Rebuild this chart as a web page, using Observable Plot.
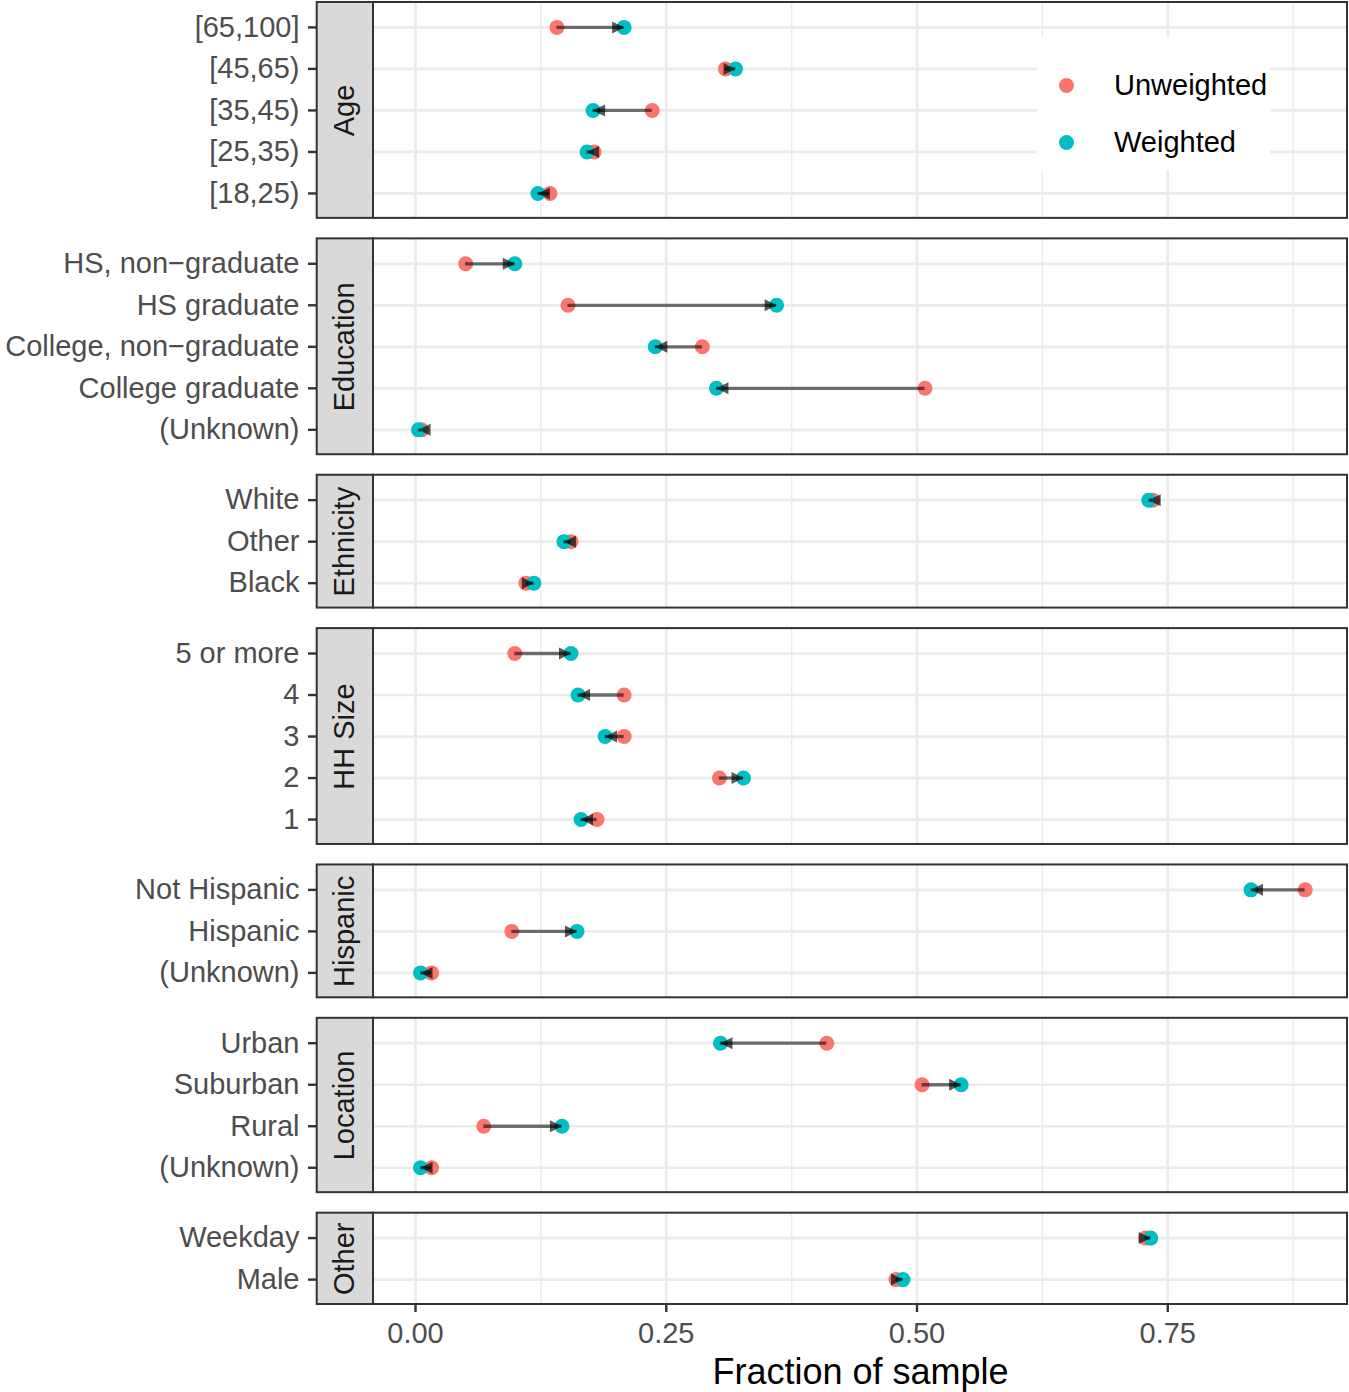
<!DOCTYPE html>
<html>
<head>
<meta charset="utf-8">
<script src="https://cdn.jsdelivr.net/npm/d3@7"></script>
<script src="https://cdn.jsdelivr.net/npm/@observablehq/plot@0.6"></script>
<style>
  body { margin: 0; background: #fff; }
  #wrap { position: relative; width: 1349px; height: 1392px; font-family: "Liberation Sans", Arial, sans-serif; }
  #legend { position: absolute; left: 1037px; top: 37px; width: 233px; height: 133px; background: #fff; }
  .item { position: absolute; left: 0; height: 40px; }
  .sw { position: absolute; left: 21.5px; width: 15px; height: 15px; border-radius: 50%; }
  .lab { position: absolute; left: 77px; font-size: 29px; color: #000; white-space: nowrap; line-height: 40px; }
</style>
</head>
<body>
<div id="wrap"></div>
<script>
// ---------- data ----------
const groupNames = ["Age", "Education", "Ethnicity", "HH Size", "Hispanic", "Location", "Other"];
const categoryGroup = [
  "Age", "Age", "Age", "Age", "Age",
  "Education", "Education", "Education", "Education", "Education",
  "Ethnicity", "Ethnicity", "Ethnicity",
  "HH Size", "HH Size", "HH Size", "HH Size", "HH Size",
  "Hispanic", "Hispanic", "Hispanic",
  "Location", "Location", "Location", "Location",
  "Other", "Other"
];
const categoryLabel = [
  "[65,100]", "[45,65)", "[35,45)", "[25,35)", "[18,25)",
  "HS, non\u2212graduate", "HS graduate", "College, non\u2212graduate", "College graduate", "(Unknown)",
  "White", "Other", "Black",
  "5 or more", "4", "3", "2", "1",
  "Not Hispanic", "Hispanic", "(Unknown)",
  "Urban", "Suburban", "Rural", "(Unknown)",
  "Weekday", "Male"
];
const unweighted = [
  0.141, 0.309, 0.236, 0.178, 0.134,
  0.050, 0.152, 0.286, 0.508, 0.006,
  0.735, 0.155, 0.110,
  0.099, 0.208, 0.208, 0.303, 0.181,
  0.887, 0.096, 0.016,
  0.410, 0.505, 0.068, 0.016,
  0.728, 0.479
];
const weighted = [
  0.208, 0.319, 0.177, 0.171, 0.122,
  0.099, 0.360, 0.239, 0.300, 0.003,
  0.731, 0.148, 0.118,
  0.155, 0.162, 0.189, 0.327, 0.165,
  0.833, 0.161, 0.005,
  0.304, 0.544, 0.146, 0.005,
  0.733, 0.486
];
const xTicks = [0, 0.25, 0.5, 0.75];
const xMinor = [0.125, 0.375, 0.625, 0.875];
const seriesNames = ["Unweighted", "Weighted"];
const seriesColors = ["#F8766D", "#00BFC4"];
const xTitle = "Fraction of sample";

// ---------- layout ----------
const W = 1349, H = 1392, mL = 373, mR = 2, mT = 2, mB = 88;
const frameW = W - mL - mR;
const expand = 0.6, gapU = 0.494;
let cursor = 0;
const panels = [], rows = [];
for (const g of groupNames) {
  const idx = categoryGroup.map((c, i) => (c === g ? i : -1)).filter(i => i >= 0);
  const y1 = cursor;
  idx.forEach((i, k) => rows.push({group: g, label: categoryLabel[i], pos: y1 + expand + k, u: unweighted[i], w: weighted[i]}));
  const y2 = y1 + 2 * expand + idx.length - 1;
  panels.push({name: g, y1, y2, mid: (y1 + y2) / 2});
  cursor = y2 + gapU;
}
const total = cursor - gapU;

const long = rows.flatMap(r => [
  {series: seriesNames[0], x: r.u, pos: r.pos},
  {series: seriesNames[1], x: r.w, pos: r.pos}
]);
const grid = panels.flatMap(p => [
  ...xTicks.map(v => ({x: v, y1: p.y1, y2: p.y2, major: true})),
  ...xMinor.map(v => ({x: v, y1: p.y1, y2: p.y2, major: false}))
]);

const chart = Plot.plot({
  width: W, height: H,
  marginLeft: mL, marginRight: mR, marginTop: mT, marginBottom: mB,
  style: {fontFamily: "Liberation Sans, Arial, sans-serif", background: "white", overflow: "visible"},
  x: {domain: [-0.0419, 0.9292]},
  y: {domain: [0, total], reverse: true, axis: null},
  color: {domain: seriesNames, range: seriesColors},
  marks: [
    Plot.ruleX(grid.filter(d => !d.major), {x: "x", y1: "y1", y2: "y2", stroke: "#ebebeb", strokeWidth: 1.4}),
    Plot.ruleX(grid.filter(d => d.major), {x: "x", y1: "y1", y2: "y2", stroke: "#ebebeb", strokeWidth: 2.7}),
    Plot.ruleY(rows, {y: "pos", stroke: "#ebebeb", strokeWidth: 2.7}),
    Plot.dot(long, {x: "x", y: "pos", fill: "series", r: 7.5, stroke: "none"}),
    Plot.ruleY(rows, {y: "pos", x1: "u", x2: "w", stroke: "black", strokeOpacity: 0.55, strokeWidth: 3.3}),
    Plot.vector(rows, {x: "w", y: "pos", length: 12, rotate: d => (d.w > d.u ? 90 : -90), shape: "spike", anchor: "end", r: 6, fill: "black", fillOpacity: 0.65, stroke: "none"}),
    Plot.rect(panels, {y1: "y1", y2: "y2", fill: "none", stroke: "#333333", strokeWidth: 2}),
    Plot.rect(panels, {y1: "y1", y2: "y2", insetLeft: -56.3, insetRight: frameW, fill: "#d9d9d9", stroke: "#333333", strokeWidth: 2}),
    Plot.text(panels, {y: "mid", text: "name", frameAnchor: "left", textAnchor: "middle", lineAnchor: "middle", dx: -28.3, rotate: -90, fontSize: 29, fill: "#1a1a1a"}),
    Plot.ruleY(rows, {y: "pos", insetLeft: -65, insetRight: frameW + 57, stroke: "#333333", strokeWidth: 2.4}),
    Plot.text(rows, {y: "pos", text: "label", frameAnchor: "left", textAnchor: "end", lineAnchor: "middle", dx: -74, fontSize: 29, fill: "#4d4d4d"}),
    Plot.axisX({ticks: xTicks, tickFormat: d3.format(".2f"), tickSize: 8, tickPadding: 10, fontSize: 29, stroke: "#333333", fill: "#4d4d4d", strokeWidth: 2.4, label: null}),
    Plot.text([xTitle], {frameAnchor: "bottom", lineAnchor: "middle", text: d => d, dy: 68, fontSize: 36, fill: "black"})
  ]
});

const wrap = document.getElementById("wrap");
wrap.appendChild(chart);

// legend (inside the top panel, top-right)
const legend = document.createElement("div");
legend.id = "legend";
seriesNames.forEach((name, i) => {
  const item = document.createElement("div");
  item.className = "item";
  item.style.top = (28 + i * 57) + "px";
  item.style.width = "233px";
  const sw = document.createElement("div");
  sw.className = "sw";
  sw.style.background = seriesColors[i];
  sw.style.top = "12.5px";
  const lab = document.createElement("div");
  lab.className = "lab";
  lab.style.top = "0px";
  lab.textContent = name;
  item.appendChild(sw);
  item.appendChild(lab);
  legend.appendChild(item);
});
wrap.appendChild(legend);
</script>
</body>
</html>
